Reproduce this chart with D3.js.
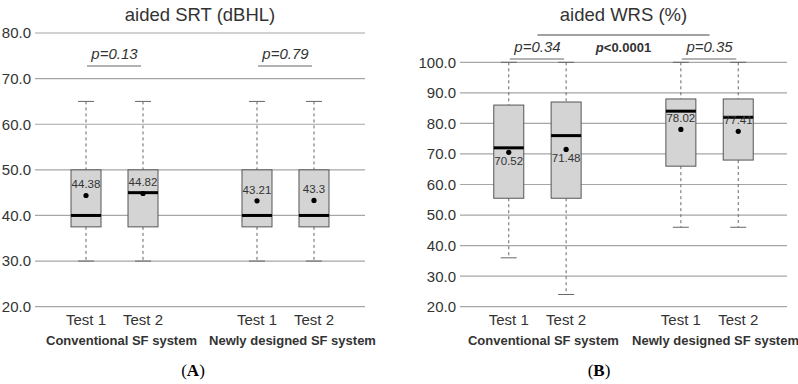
<!DOCTYPE html>
<meta charset="utf-8">
<style>
body { margin: 0; background: #fff; }
text { font-family: Arial, "Liberation Sans", sans-serif; fill: #333; }
.grid line { stroke: #a6a6a6; stroke-width: 1.2; }
.box rect { fill: #d4d4d4; stroke: #555; stroke-width: 1; }
.whisker { stroke: #666; stroke-width: 1; stroke-dasharray: 3,3; }
.cap { stroke: #666; stroke-width: 1; }
.median { stroke: #000; stroke-width: 3; }
.pline { stroke: #666; stroke-width: 1; }
</style>
<svg width="798" height="384"></svg>
<script src="https://d3js.org/d3.v7.min.js"></script>
<script>

// box order: Conventional Test 1, Conventional Test 2, Newly Test 1, Newly Test 2
var groups = ["Conventional SF system", "Newly designed SF system"];
var tests = ["Test 1", "Test 2"];

// panel A: aided SRT (dBHL)
var srtMin    = [30, 30, 30, 30];
var srtQ1     = [37.5, 37.5, 37.5, 37.5];
var srtMedian = [40, 45, 40, 40];
var srtQ3     = [50, 50, 50, 50];
var srtMax    = [65, 65, 65, 65];
var srtMean   = [44.38, 44.82, 43.21, 43.3];
var srtTicks  = [20, 30, 40, 50, 60, 70, 80];
var srtP      = ["p=0.13", "p=0.79"];

// panel B: aided WRS (%)
var wrsMin    = [36, 24, 46, 46];
var wrsQ1     = [55.5, 55.5, 66, 68];
var wrsMedian = [72, 76, 84, 82];
var wrsQ3     = [86, 87, 88, 88];
var wrsMax    = [100, 100, 100, 100];
var wrsMean   = [70.52, 71.48, 78.02, 77.41];
var wrsTicks  = [20, 30, 40, 50, 60, 70, 80, 90, 100];
var wrsP      = ["p=0.34", "p=0.35"];
var wrsPBetween = "0.0001";

var slots = ["c1", "c2", "gap", "n1", "n2"];
var boxSlots = ["c1", "c2", "n1", "n2"];

var svg = d3.select("svg");

function panel(opt) {
  var x = d3.scalePoint().domain(slots).range([opt.x0, opt.x1]).padding(opt.pad);
  var y = d3.scaleLinear().domain([opt.ticks[0], opt.ticks[opt.ticks.length - 1]]).range([opt.yBottom, opt.yTop]);
  var g = svg.append("g");
  var bw = 30;

  g.append("text")
    .attr("x", (opt.x0 + opt.x1) / 2 + opt.titleDx).attr("y", 21)
    .attr("text-anchor", "middle").style("font-size", "18.5px")
    .text(opt.title);

  // gridlines + tick labels
  var grid = g.append("g").attr("class", "grid");
  grid.selectAll("line").data(opt.ticks).enter().append("line")
    .attr("x1", opt.x0).attr("x2", opt.x1)
    .attr("y1", function(d) { return y(d); }).attr("y2", function(d) { return y(d); });
  g.selectAll(".tick-label").data(opt.ticks).enter().append("text")
    .attr("x", opt.x0 - 4).attr("y", function(d) { return y(d); })
    .attr("dy", "0.36em").attr("text-anchor", "end")
    .style("font-size", "15px")
    .text(function(d) { return d.toFixed(1); });

  var boxes = g.selectAll(".box").data(d3.range(4)).enter().append("g").attr("class", "box");
  var cx = function(i) { return x(boxSlots[i]); };

  boxes.append("line").attr("class", "whisker")
    .attr("x1", cx).attr("x2", cx)
    .attr("y1", function(i) { return y(opt.max[i]); }).attr("y2", function(i) { return y(opt.q3[i]); });
  boxes.append("line").attr("class", "whisker")
    .attr("x1", cx).attr("x2", cx)
    .attr("y1", function(i) { return y(opt.q1[i]); }).attr("y2", function(i) { return y(opt.min[i]); });
  boxes.append("line").attr("class", "cap")
    .attr("x1", function(i) { return cx(i) - 8; }).attr("x2", function(i) { return cx(i) + 8; })
    .attr("y1", function(i) { return y(opt.max[i]); }).attr("y2", function(i) { return y(opt.max[i]); });
  boxes.append("line").attr("class", "cap")
    .attr("x1", function(i) { return cx(i) - 8; }).attr("x2", function(i) { return cx(i) + 8; })
    .attr("y1", function(i) { return y(opt.min[i]); }).attr("y2", function(i) { return y(opt.min[i]); });
  boxes.append("rect")
    .attr("x", function(i) { return cx(i) - bw / 2; }).attr("width", bw)
    .attr("y", function(i) { return y(opt.q3[i]); })
    .attr("height", function(i) { return y(opt.q1[i]) - y(opt.q3[i]); });
  boxes.append("line").attr("class", "median")
    .attr("x1", function(i) { return cx(i) - bw / 2; }).attr("x2", function(i) { return cx(i) + bw / 2; })
    .attr("y1", function(i) { return y(opt.median[i]); }).attr("y2", function(i) { return y(opt.median[i]); });
  boxes.append("circle")
    .attr("cx", cx).attr("cy", function(i) { return y(opt.mean[i]); })
    .attr("r", 2.6).style("fill", "#000");
  boxes.append("text")
    .attr("x", cx)
    .attr("y", function(i) {
      var my = y(opt.mean[i]), med = y(opt.median[i]);
      var gap = my - med;
      // median line a few px above the dot: label goes under the dot
      if (gap > 3 && gap < 14) return my + 13;
      return my - 7;
    })
    .attr("text-anchor", "middle").style("font-size", "11.5px")
    .text(function(i) { return opt.mean[i]; });

  // x labels
  g.selectAll(".test-label").data(boxSlots).enter().append("text")
    .attr("x", function(d) { return x(d); }).attr("y", 325)
    .attr("text-anchor", "middle").style("font-size", "15px")
    .text(function(d, i) { return tests[i % 2]; });
  g.selectAll(".group-label").data(groups).enter().append("text")
    .attr("x", function(d, i) { return (x(boxSlots[i * 2]) + x(boxSlots[i * 2 + 1])) / 2 + opt.groupDx; })
    .attr("y", 345)
    .attr("text-anchor", "middle").style("font-size", "13px").style("font-weight", "bold")
    .text(function(d) { return d; });

  // p-values within systems
  opt.p.forEach(function(p, i) {
    var xa = x(boxSlots[i * 2]), xb = x(boxSlots[i * 2 + 1]);
    g.append("line").attr("class", "pline")
      .attr("x1", xa + 1).attr("x2", xb - 2).attr("y1", opt.pY + 7).attr("y2", opt.pY + 7);
    g.append("text")
      .attr("x", (xa + xb) / 2).attr("y", opt.pY)
      .attr("text-anchor", "middle").style("font-size", "15px").style("font-style", "italic")
      .text(p);
  });

  if (opt.between) {
    var xa = (x("c1") + x("c2")) / 2, xb = (x("n1") + x("n2")) / 2;
    g.append("line").attr("class", "pline").style("stroke", "#444")
      .attr("x1", xa).attr("x2", xb).attr("y1", 35).attr("y2", 35);
    var t = g.append("text")
      .attr("x", x("gap")).attr("y", opt.pY)
      .attr("text-anchor", "middle").style("font-size", "13px").style("font-weight", "bold");
    t.append("tspan").style("font-style", "italic").text("p");
    t.append("tspan").text("<" + opt.between);
  }

  var lab = g.append("text")
    .attr("x", opt.letterX).attr("y", 376)
    .attr("text-anchor", "middle")
    .style("font-family", "'Liberation Serif', 'DejaVu Serif', serif").style("font-size", "17px")
    .style("fill", "#000");
  lab.append("tspan").text("(");
  lab.append("tspan").style("font-weight", "bold").text(opt.letter);
  lab.append("tspan").text(")");
}

panel({
  title: "aided SRT (dBHL)", titleDx: 0,
  x0: 35, x1: 365, pad: 0.895, yTop: 33, yBottom: 306.7,
  ticks: srtTicks, min: srtMin, q1: srtQ1, median: srtMedian, q3: srtQ3, max: srtMax, mean: srtMean,
  p: srtP, pY: 59, groupDx: 7, letter: "A", letterX: 193
});

panel({
  title: "aided WRS (%)", titleDx: 0,
  x0: 460, x1: 787, pad: 0.85, yTop: 62.3, yBottom: 306.7,
  ticks: wrsTicks, min: wrsMin, q1: wrsQ1, median: wrsMedian, q3: wrsQ3, max: wrsMax, mean: wrsMean,
  p: wrsP, pY: 52, between: wrsPBetween, groupDx: 6, letter: "B", letterX: 599
});

</script>
